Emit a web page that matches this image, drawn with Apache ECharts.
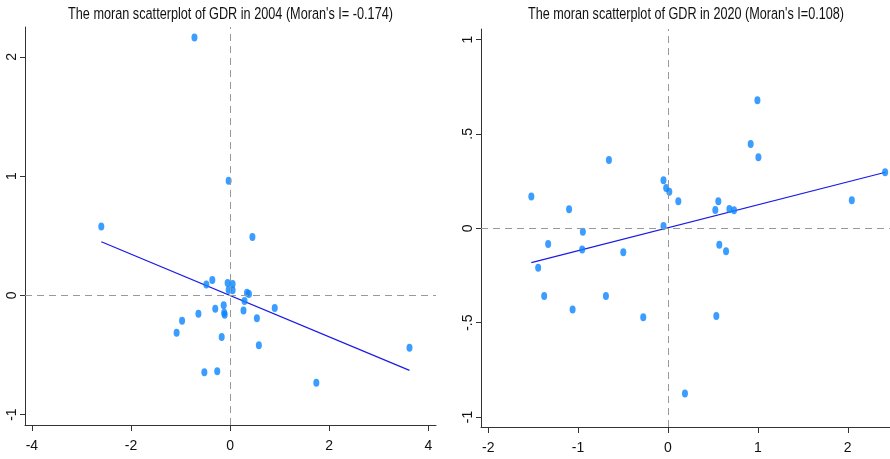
<!DOCTYPE html>
<html><head><meta charset="utf-8">
<script src="https://cdn.jsdelivr.net/npm/echarts@6/dist/echarts.min.js"></script>
<style>html,body{margin:0;padding:0;background:#fff}#c{width:890px;height:459px}</style>
</head><body><div id="c"></div>
<script>
// 2004 panel: [z, Wz]
const pts2004 = [
  [-0.72,2.163],[-0.03,0.96],[-2.6,0.578],[0.45,0.49],[-0.36,0.128],[-0.48,0.092],
  [-0.05,0.103],[0.05,0.095],[-0.03,0.045],[0.05,0.042],[0.34,0.022],[0.38,0.011],
  [0.29,-0.048],[-0.13,-0.084],[-0.30,-0.112],[0.27,-0.126],[0.90,-0.106],[-0.64,-0.154],
  [-0.12,-0.146],[-0.11,-0.162],[0.54,-0.193],[-0.97,-0.213],[-1.08,-0.313],[-0.17,-0.35],
  [0.58,-0.419],[3.62,-0.439],[-0.52,-0.645],[-0.26,-0.637],[1.74,-0.732]
];
const fit2004 = [[-2.6,0.449],[3.62,-0.629]];
const title2004 = "The moran scatterplot of GDR in 2004 (Moran's I= -0.174)";
const xTicks2004 = [-4,-2,0,2,4];
const yTicks2004 = [-1,0,1,2];

// 2020 panel
const pts2020 = [
  [0.995,0.679],[0.92,0.446],[1.006,0.377],[-0.657,0.362],[-0.05,0.255],[-0.02,0.214],
  [0.015,0.194],[0.115,0.143],[-1.52,0.168],[-1.10,0.101],[0.56,0.143],[0.527,0.097],
  [0.683,0.102],[0.735,0.095],[2.045,0.148],[2.416,0.297],[-0.05,0.012],
  [-0.947,-0.018],[-1.333,-0.083],[-0.954,-0.113],[-0.497,-0.127],[-1.444,-0.209],
  [-1.377,-0.359],[-0.69,-0.359],[-1.061,-0.43],[-0.275,-0.472],[0.538,-0.465],
  [0.571,-0.087],[0.646,-0.122],[0.189,-0.875]
];
const fit2020 = [[-1.52,-0.182],[2.42,0.297]];
const title2020 = "The moran scatterplot of GDR in 2020 (Moran's I=0.108)";
const xTicks2020 = [-2,-1,0,1,2];
const yTicks2020 = [-1,-0.5,0,0.5,1];

const FONT = "'Liberation Sans', Arial, sans-serif";
const axisColor = '#333';
const fmt = v => String(v).replace(/^(-?)0\./,'$1.');

// horizontally condensed title text (reference uses a narrow face)
const mctx = document.createElement('canvas').getContext('2d');
function titleGraphic(text, cx, targetW){
  mctx.font = '16px ' + FONT;
  const w = mctx.measureText(text).width;
  return {type:'text', x:cx, y:14, scaleX: targetW / w, scaleY:1.03,
    style:{text, fontSize:16, fontFamily:FONT, fill:'#111', textAlign:'center', textVerticalAlign:'middle'}};
}

function xAxis(idx, min, max, ticks){
  return {type:'value', gridIndex:idx, min, max, splitLine:{show:false},
    axisLine:{onZero:false, lineStyle:{color:axisColor,width:1}},
    axisTick:{length:6, customValues:ticks, lineStyle:{color:axisColor}},
    axisLabel:{customValues:ticks, formatter:fmt, color:'#111', fontFamily:FONT, fontSize:14, margin:14}};
}
function yAxis(idx, min, max, ticks){
  return {type:'value', gridIndex:idx, min, max, splitLine:{show:false},
    axisLine:{onZero:false, lineStyle:{color:axisColor,width:1}},
    axisTick:{length:5, customValues:ticks, lineStyle:{color:axisColor}},
    axisLabel:{customValues:ticks, formatter:fmt, rotate:90, color:'#111', fontFamily:FONT, fontSize:14, margin:6}};
}
function zeroLines(){
  return {silent:true, symbol:'none', label:{show:false},
    lineStyle:{type:[7,5], color:'#999', width:1},
    data:[{xAxis:0},{yAxis:0}]};
}
const chart = echarts.init(document.getElementById('c'));
chart.setOption({
  animation:false,
  graphic:[titleGraphic(title2004, 230.5, 325), titleGraphic(title2020, 686, 316)],
  grid:[
    {left:25, top:27, width:411, height:398},
    {left:481, top:29, width:409, height:398}
  ],
  xAxis:[xAxis(0,-4.14,4.155,xTicks2004), xAxis(1,-2.08,2.47,xTicks2020)],
  yAxis:[yAxis(0,-1.087,2.25,yTicks2004), yAxis(1,-1.053,1.056,yTicks2020)],
  series:[
    {type:'line', xAxisIndex:0, yAxisIndex:0, data:fit2004, symbol:'none', lineStyle:{color:'#1a1ae6', width:1.2}, markLine:zeroLines(), z:1},
    {type:'scatter', xAxisIndex:0, yAxisIndex:0, data:pts2004, symbol:'circle', symbolSize:[6,8], itemStyle:{color:'#0a84ff'}, z:3},
    {type:'line', xAxisIndex:1, yAxisIndex:1, data:fit2020, symbol:'none', lineStyle:{color:'#1a1ae6', width:1.2}, markLine:zeroLines(), z:1},
    {type:'scatter', xAxisIndex:1, yAxisIndex:1, data:pts2020, symbol:'circle', symbolSize:[6,8], itemStyle:{color:'#0a84ff'}, z:3}
  ]
});
</script></body></html>
